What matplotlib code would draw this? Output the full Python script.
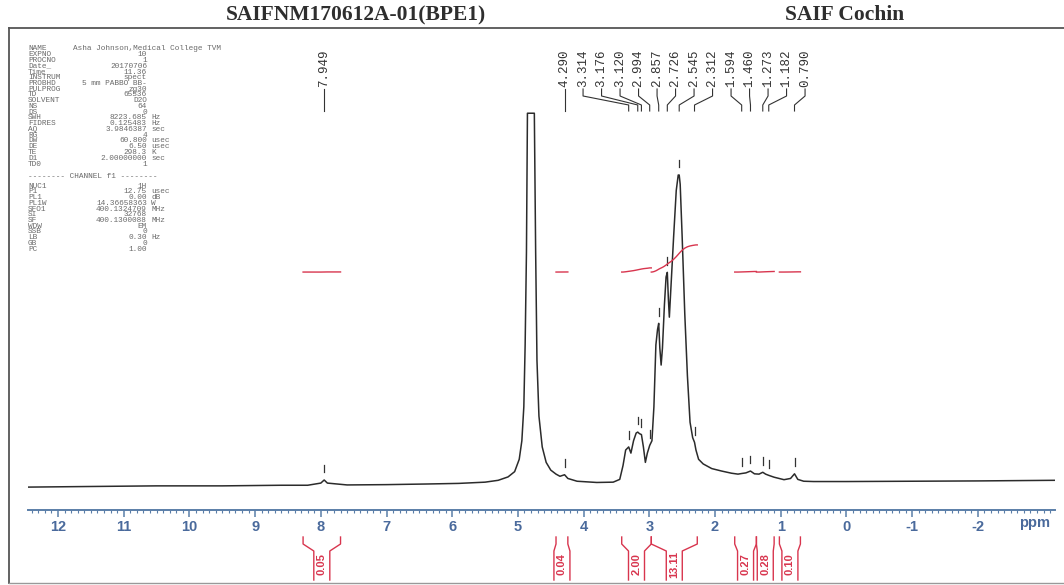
import numpy as np
import matplotlib
matplotlib.use("Agg")
import matplotlib.pyplot as plt
from matplotlib import transforms

W, H = 1064, 585

# 1H trace (ppm, relative intensity, 2.545 peak = 100, water clipped at 120)
ppm = [12.45, 11.5, 10.5, 9.5, 8.6, 8.2, 8.0, 7.949, 7.90, 7.6, 7.0, 6.4, 5.9, 5.5, 5.3,
       5.15, 5.05, 4.98, 4.94, 4.91, 4.89, 4.87, 4.855, 4.75, 4.73, 4.71, 4.68, 4.63, 4.57,
       4.50, 4.42, 4.36, 4.29, 4.24, 4.1, 3.8, 3.55, 3.45, 3.40, 3.36, 3.314, 3.28, 3.24,
       3.20, 3.176, 3.15, 3.12, 3.09, 3.06, 3.03, 2.994, 2.96, 2.93, 2.90, 2.875, 2.857,
       2.84, 2.82, 2.80, 2.77, 2.745, 2.726, 2.71, 2.695, 2.67, 2.63, 2.59, 2.56, 2.545,
       2.53, 2.50, 2.46, 2.42, 2.38, 2.34, 2.312, 2.29, 2.25, 2.18, 2.05, 1.9, 1.75, 1.65,
       1.594, 1.53, 1.46, 1.40, 1.33, 1.273, 1.23, 1.182, 1.1, 0.95, 0.85, 0.79, 0.74,
       0.65, 0.5, 0.0, -1.0, -2.0, -3.17]
inten = [-1.0, -0.8, -0.6, -0.6, -0.4, -0.4, 0.3, 1.3, 0.3, -0.3, -0.2, 0.0, 0.2, 0.6, 1.2,
         2.3, 4.0, 8.0, 14.0, 25.0, 45.0, 75.0, 120.0, 120.0, 75.0, 40.0, 22.0, 12.0, 7.0,
         4.5, 3.2, 2.5, 3.0, 1.8, 0.9, 0.5, 0.6, 1.5, 6.0, 11.0, 12.0, 10.0, 14.0,
         16.5, 16.8, 16.3, 16.0, 12.0, 7.0, 10.0, 12.5, 14.0, 25.0, 45.0, 50.0, 52.0,
         44.0, 38.5, 44.0, 58.0, 67.0, 68.5, 60.0, 54.0, 64.0, 80.0, 95.0, 100.0, 100.0,
         97.0, 80.0, 55.0, 35.0, 20.0, 15.0, 13.5, 11.0, 8.0, 6.5, 5.0, 4.2, 3.5, 3.2,
         3.4, 3.6, 4.2, 3.3, 3.2, 3.8, 3.2, 2.8, 2.2, 1.4, 1.8, 3.3, 1.5,
         0.9, 0.8, 0.8, 0.9, 1.0, 1.2]

peak_ppm = [7.949, 4.290, 3.314, 3.176, 3.120, 2.994, 2.857, 2.726, 2.545, 2.312,
            1.594, 1.460, 1.273, 1.182, 0.790]

integ_start = [8.27, 4.42, 3.42, 2.97, 1.70, 1.37, 1.02]
integ_end = [7.70, 4.24, 2.97, 2.27, 1.37, 1.10, 0.70]
integ_val = [0.05, 0.04, 2.00, 13.11, 0.27, 0.28, 0.10]

par_names = ["NAME", "EXPNO", "PROCNO", "Date_", "Time", "INSTRUM", "PROBHD", "PULPROG",
             "TD", "SOLVENT", "NS", "DS", "SWH", "FIDRES", "AQ", "RG", "DW", "DE", "TE",
             "D1", "TD0"]
par_values = ["", "10", "1", "20170706", "11.36", "spect", "5 mm PABBO BB-", "zg30",
              "65536", "D2O", "64", "0", "8223.685", "0.125483", "3.9846387", "4",
              "60.800", "6.50", "298.3", "2.00000000", "1"]
par_units = ["", "", "", "", "", "", "", "", "", "", "", "", "Hz", "Hz", "sec", "",
             "usec", "usec", "K", "sec", ""]
ch_names = ["NUC1", "P1", "PL1", "PL1W", "SFO1", "SI", "SF", "WDW", "SSB", "LB", "GB", "PC"]
ch_values = ["1H", "12.75", "0.00", "14.36658363", "400.1324709", "32768",
             "400.1300088", "EM", "0", "0.30", "0", "1.00"]
ch_units = ["", "usec", "dB", "W", "MHz", "", "MHz", "", "", "Hz", "", ""]

RED = "#d8354e"
BLUE = "#5a7ea8"
GREY = "#6a6a6a"
PFONT = 5.6
plt.rcParams["axes.unicode_minus"] = False


def fx(px):
    return px / W


def fy(py):
    return 1 - py / H


fig = plt.figure(figsize=(W / 100, H / 100), dpi=100)
fig.patch.set_facecolor("white")

# frame and header
fig.add_artist(plt.Line2D([fx(9), fx(1064)], [fy(28), fy(28)], color="#555555", lw=1.3))
fig.add_artist(plt.Line2D([fx(9), fx(9)], [fy(28), fy(583)], color="#555555", lw=1.3))
fig.add_artist(plt.Line2D([fx(9), fx(1064)], [fy(583), fy(583)], color="#999999", lw=1.0))
fig.text(fx(356), fy(15), "SAIFNM170612A-01(BPE1)", family="Liberation Serif",
         weight="bold", fontsize=15.5, color="#2e2e2e", ha="center", va="center")
fig.text(fx(845), fy(15), "SAIF Cochin", family="Liberation Serif",
         weight="bold", fontsize=15.5, color="#2e2e2e", ha="center", va="center")

# spectrum axes
ax = fig.add_axes([fx(28), fy(510), fx(1055) - fx(28), (510 - 40) / H])
ax.set_xlim(12.457, -3.175)
ax.set_ylim(-8.41, 143.7)
ax.patch.set_alpha(0)
ax.plot(ppm, inten, color="#2b2b2b", lw=1.1)

for s in ["top", "left", "right"]:
    ax.spines[s].set_visible(False)
ax.spines["bottom"].set_color(BLUE)
ax.spines["bottom"].set_linewidth(1.4)
ax.set_yticks([])
ax.set_xticks(np.arange(12, -3, -1))
ax.set_xticks(np.arange(12.4, -3.2, -0.1), minor=True)
ax.tick_params(axis="x", which="major", direction="out", length=5, width=1.1,
               color=BLUE, labelcolor="#4a6a9c", labelsize=10.5, pad=2)
ax.tick_params(axis="x", which="minor", direction="out", length=2.5, width=0.8, color=BLUE)
for lab in ax.get_xticklabels():
    lab.set_fontweight("bold")
    lab.set_family("Liberation Sans")
fig.text(fx(1035), fy(523), "ppm", family="Liberation Sans", weight="bold",
         fontsize=10.5, color="#4a6a9c", ha="center", va="center")

# peak pick markers above the peaks
peak_int = np.interp(peak_ppm, ppm[::-1], inten[::-1])
for p, v in zip(peak_ppm, peak_int):
    ax.plot([p, p], [v + 2.5, v + 5.0], color="#333333", lw=0.9)

# peak labels with connectors
tr = transforms.blended_transform_factory(ax.transData, fig.transFigure)
ppm_per_px = (12.457 + 3.175) / (1055 - 28)
lab_x = [peak_ppm[0]] + [peak_ppm[1] - i * 18.5 * ppm_per_px for i in range(len(peak_ppm) - 1)]
for lx, p in zip(lab_x, peak_ppm):
    ax.text(lx, fy(87), f"{p:.3f}", transform=tr, rotation=90, ha="center", va="bottom",
            family="Liberation Mono", fontsize=9, color="#333333", clip_on=False)
    ax.plot([lx, lx, p, p], [fy(89), fy(96), fy(105), fy(111)], transform=tr,
            color="#333333", lw=0.8, clip_on=False)

# integral traces
ppm_a = np.array(ppm)
int_a = np.array(inten)
for a, b, v in zip(integ_start, integ_end, integ_val):
    m = (ppm_a <= a) & (ppm_a >= b)
    xs = ppm_a[m]
    ys = int_a[m]
    cum = np.concatenate([[0], np.cumsum(np.diff(-xs) * (ys[1:] + ys[:-1]) / 2)])
    if cum[-1] > 0:
        cum = cum / cum[-1]
    xs = np.concatenate([[a], xs, [b]])
    cum = np.concatenate([[0], cum, [1]])
    ax.plot(xs, 68.6 + v * 0.67 * cum, color=RED, lw=1.0)

# integral brackets and values below the axis
half = 8 * ppm_per_px
for a, b, v in zip(integ_start, integ_end, integ_val):
    c = (a + b) / 2
    for end, edge in [(a, c + half), (b, c - half)]:
        ax.plot([end, end, edge, edge], [fy(537), fy(544), fy(551), fy(580)],
                transform=tr, color=RED, lw=1.0, clip_on=False)
    ax.text(c, fy(564), f"{v:.2f}", transform=tr, rotation=90, ha="center", va="center",
            family="Liberation Sans", weight="bold", fontsize=8, color=RED, clip_on=False)

# acquisition parameter block
def par_row(y, n, v, u):
    fig.text(fx(28), fy(y), n, family="Liberation Mono", fontsize=PFONT, color=GREY, va="center")
    fig.text(fx(147), fy(y), v, family="Liberation Mono", fontsize=PFONT, color=GREY,
             va="center", ha="right")
    fig.text(fx(151), fy(y), u, family="Liberation Mono", fontsize=PFONT, color=GREY, va="center")


for i, (n, v, u) in enumerate(zip(par_names, par_values, par_units)):
    par_row(49 + i * 5.75, n, v, u)
fig.text(fx(73), fy(49), "Asha Johnson,Medical College TVM", family="Liberation Mono",
         fontsize=PFONT, color=GREY, va="center")
fig.text(fx(28), fy(177), "-------- CHANNEL f1 --------", family="Liberation Mono",
         fontsize=PFONT, color=GREY, va="center")
for i, (n, v, u) in enumerate(zip(ch_names, ch_values, ch_units)):
    par_row(186 + i * 5.75, n, v, u)

fig.savefig("out.png", dpi=100)
